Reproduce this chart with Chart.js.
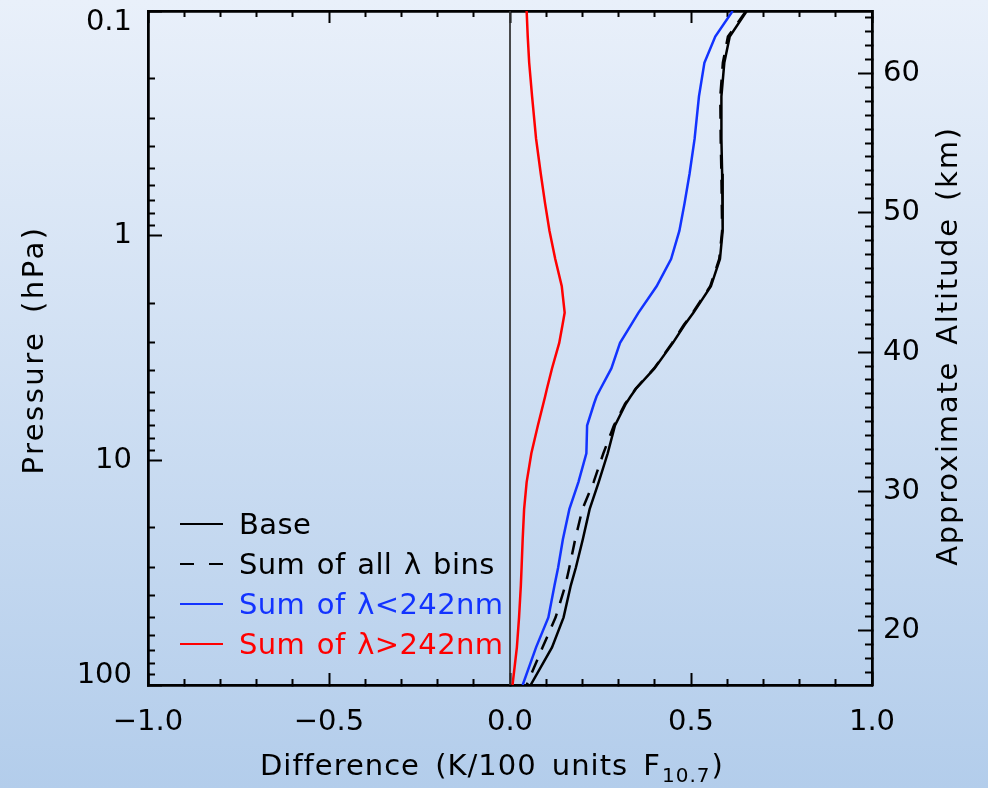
<!DOCTYPE html>
<html>
<head>
<meta charset="utf-8">
<title>Temperature response to F10.7</title>
<script src="https://cdn.jsdelivr.net/npm/chart.js@4/dist/chart.umd.min.js"></script>
<style>
  html, body { margin: 0; padding: 0; }
  body {
    width: 988px;
    height: 788px;
    overflow: hidden;
    background: linear-gradient(to bottom, #e9f0fa 0%, #b3cdeb 100%);
  }
  canvas { display: block; }
</style>
</head>
<body>
<canvas id="profile" width="988" height="788"></canvas>
<script>
'use strict';

// Pressure levels (hPa) shared by every profile
const pressure = [0.1, 0.13, 0.17, 0.24, 0.37, 0.53, 0.72, 0.95, 1.27, 1.68, 2.2, 2.5, 3.0, 3.9,
  4.8, 5.2, 5.6, 7.0, 9.3, 12.5, 16.5, 22.5, 30, 36, 50, 68, 100];

// Temperature difference, K per 100 units F10.7
const base = [0.654, 0.607, 0.592, 0.584, 0.584, 0.586, 0.587, 0.588, 0.580, 0.555, 0.507, 0.482, 0.450, 0.399,
  0.348, 0.333, 0.320, 0.290, 0.270, 0.245, 0.220, 0.201, 0.182, 0.168, 0.148, 0.116, 0.057];
const sumAll = [0.652, 0.602, 0.588, 0.581, 0.582, 0.584, 0.585, 0.586, 0.578, 0.553, 0.505, 0.480, 0.448, 0.398,
  0.347, 0.332, 0.318, 0.287, 0.258, 0.231, 0.200, 0.180, 0.164, 0.153, 0.126, 0.090, 0.046];
const sumShort = [0.615, 0.567, 0.537, 0.522, 0.510, 0.496, 0.482, 0.468, 0.445, 0.405, 0.355, 0.334, 0.304, 0.280,
  0.250, 0.239, 0.232, 0.213, 0.211, 0.189, 0.164, 0.146, 0.133, 0.123, 0.106, 0.072, 0.035];
const sumLong = [0.046, 0.049, 0.053, 0.061, 0.072, 0.085, 0.097, 0.109, 0.125, 0.143, 0.151, 0.145, 0.136, 0.116,
  0.102, 0.097, 0.092, 0.077, 0.059, 0.046, 0.039, 0.035, 0.032, 0.030, 0.025, 0.019, 0.007];

const seriesLabels = ['Base', 'Sum of all λ bins', 'Sum of λ<242nm', 'Sum of λ>242nm'];

// Axis ticks
const xMajor = [-1, -0.5, 0, 0.5, 1];
const xMajorLabels = ['−1.0', '−0.5', '0.0', '0.5', '1.0'];
const xMinor = [-0.9, -0.8, -0.7, -0.6, -0.4, -0.3, -0.2, -0.1, 0.1, 0.2, 0.3, 0.4, 0.6, 0.7, 0.8, 0.9];
const pMajor = [0.1, 1, 10, 100];
const pMajorLabels = ['0.1', '1', '10', '100'];
const pMinor = [0.2, 0.3, 0.4, 0.5, 0.6, 0.7, 0.8, 0.9, 2, 3, 4, 5, 6, 7, 8, 9, 20, 30, 40, 50, 60, 70, 80, 90];
const kmMajor = [20, 30, 40, 50, 60];
const kmMinor = [17, 18, 19, 21, 22, 23, 24, 25, 26, 27, 28, 29, 31, 32, 33, 34, 35, 36, 37, 38, 39,
  41, 42, 43, 44, 45, 46, 47, 48, 49, 51, 52, 53, 54, 55, 56, 57, 58, 59, 61, 62, 63, 64];

const X_TITLE = 'Difference (K/100 units F';
const X_TITLE_SUB = '10.7';
const Y_TITLE = 'Pressure (hPa)';
const ALT_TITLE = 'Approximate Altitude (km)';

const FONT = '"DejaVu Sans", sans-serif';
const P_SURFACE = 1000;
const SCALE_HEIGHT = 7; // km

const altToPressure = (km) => P_SURFACE * Math.exp(-km / SCALE_HEIGHT);
const toPoints = (values) => values.map((v, i) => ({ x: v, y: pressure[i] }));

Chart.defaults.font.family = FONT;
Chart.defaults.font.size = 29;
Chart.defaults.color = '#000';

// Box-style axis: ticks point into the plot, size of the axis box fixed
function edgeScale({ position, log, values, length, size, weight, labels, padding }) {
  const isX = position === 'top' || position === 'bottom';
  const last = values.length - 1;
  return {
    type: log ? 'logarithmic' : 'linear',
    axis: isX ? 'x' : 'y',
    position,
    weight,
    min: isX ? -1 : 0.1,
    max: isX ? 1 : 100,
    reverse: !isX,
    afterBuildTicks: (scale) => { scale.ticks = values.map((v) => ({ value: v })); },
    afterFit: (scale) => {
      if (isX) scale.height = size; else scale.width = size;
      scale.paddingTop = 0;
      scale.paddingBottom = 0;
    },
    grid: {
      display: true,
      drawOnChartArea: false,
      drawTicks: true,
      tickLength: -length,
      tickWidth: 2,
      tickColor: '#000'
    },
    border: { display: true, color: '#000', width: 2.5 },
    ticks: labels ? {
      autoSkip: false,
      maxRotation: 0,
      padding,
      callback: (value, i) => {
        // keep the end labels of the pressure axis inside the frame
        if (log && position === 'left' && i === 0) return ['', labels[i]];
        if (log && position === 'left' && i === last) return [labels[i], ''];
        return labels[i];
      },
      font: (ctx) => {
        if (log && position === 'left' && ctx.index === 0) return { size: 29, lineHeight: '22px' };
        if (log && position === 'left' && ctx.index === last) return { size: 29, lineHeight: '20px' };
        return { size: 29 };
      }
    } : { display: false }
  };
}

function spacedText(ctx, text, x, y, letter, word) {
  ctx.letterSpacing = letter + 'px';
  ctx.wordSpacing = word + 'px';
  ctx.fillText(text, x, y);
  const w = ctx.measureText(text).width;
  ctx.letterSpacing = '0px';
  ctx.wordSpacing = '0px';
  return w;
}

const titlePlugin = {
  id: 'axisTitles',
  afterDraw(chart) {
    const { ctx, chartArea: a } = chart;
    const midY = (a.top + a.bottom) / 2;
    ctx.save();
    ctx.fillStyle = '#000';
    ctx.font = `29px ${FONT}`;
    ctx.textAlign = 'center';
    ctx.textBaseline = 'middle';

    ctx.save();
    ctx.translate(a.left - 113, midY + 2);
    ctx.rotate(-Math.PI / 2);
    spacedText(ctx, Y_TITLE, 0, 0, 2.5, 6);
    ctx.restore();

    ctx.save();
    ctx.translate(a.right + 77, midY - 2);
    ctx.rotate(-Math.PI / 2);
    spacedText(ctx, ALT_TITLE, 0, 0, 1.8, 5);
    ctx.restore();

    // x title with subscripted F10.7
    ctx.textAlign = 'left';
    ctx.textBaseline = 'alphabetic';
    let x = a.left + 112;
    const y = a.bottom + 90;
    x += spacedText(ctx, X_TITLE, x, y, 1, 5) + 1;
    ctx.font = `20px ${FONT}`;
    x += spacedText(ctx, X_TITLE_SUB, x, y + 7, 1, 0) + 1;
    ctx.font = `29px ${FONT}`;
    ctx.fillText(')', x, y);
    ctx.restore();
  }
};

const legendPlugin = {
  id: 'profileLegend',
  afterDraw(chart) {
    const { ctx, chartArea: a } = chart;
    const items = chart.data.datasets.filter((ds) => ds.label);
    ctx.save();
    ctx.font = `29px ${FONT}`;
    ctx.textAlign = 'left';
    ctx.textBaseline = 'alphabetic';
    items.forEach((ds, i) => {
      const y = a.bottom - 161 + i * 40;
      ctx.strokeStyle = ds.borderColor;
      ctx.lineWidth = 2;
      ctx.setLineDash(ds.borderDash ? [14, 15] : []);
      ctx.beginPath();
      ctx.moveTo(a.left + 32, y);
      ctx.lineTo(a.left + 75, y);
      ctx.stroke();
      ctx.fillStyle = ds.borderColor;
      spacedText(ctx, ds.label, a.left + 91, y + 10, 0.4, 2);
    });
    ctx.restore();
  }
};

new Chart(document.getElementById('profile'), {
  type: 'scatter',
  data: {
    datasets: [
      { label: seriesLabels[0], data: toPoints(base), borderColor: '#000000', order: 1 },
      { label: seriesLabels[1], data: toPoints(sumAll), borderColor: '#000000', borderDash: [14, 11], order: 2 },
      { label: seriesLabels[2], data: toPoints(sumShort), borderColor: '#1233ff', order: 3 },
      { label: seriesLabels[3], data: toPoints(sumLong), borderColor: '#ff0000', order: 0 },
      // zero reference line
      { data: [{ x: 0, y: pMajor[0] }, { x: 0, y: pMajor[pMajor.length - 1] }], borderColor: '#333333', borderWidth: 1, order: 10 }
    ].map((ds) => ({ showLine: true, borderWidth: 2.5, pointRadius: 0, tension: 0, ...ds }))
  },
  options: {
    responsive: false,
    animation: false,
    events: [],
    layout: { padding: { top: 11, left: 0, right: 0, bottom: 0 } },
    plugins: { legend: { display: false }, tooltip: { enabled: false } },
    scales: {
      x: edgeScale({ position: 'bottom', values: xMajor, length: 12, size: 103, weight: 1, labels: xMajorLabels, padding: 32 }),
      xMinor: edgeScale({ position: 'bottom', values: xMinor, length: 6, size: 0, weight: 0 }),
      xTop: edgeScale({ position: 'top', values: xMajor, length: 12, size: 0, weight: 1 }),
      xTopMinor: edgeScale({ position: 'top', values: xMinor, length: 6, size: 0, weight: 0 }),
      y: edgeScale({ position: 'left', log: true, values: pMajor, length: 14, size: 148, weight: 1, labels: pMajorLabels, padding: 30 }),
      yMinor: edgeScale({ position: 'left', log: true, values: pMinor, length: 7, size: 0, weight: 0 }),
      alt: edgeScale({ position: 'right', log: true, values: kmMajor.map(altToPressure), length: 14, size: 116, weight: 1, labels: kmMajor.map(String), padding: 25 }),
      altMinor: edgeScale({ position: 'right', log: true, values: kmMinor.map(altToPressure), length: 7, size: 0, weight: 0 })
    }
  },
  plugins: [titlePlugin, legendPlugin]
});
</script>
</body>
</html>
